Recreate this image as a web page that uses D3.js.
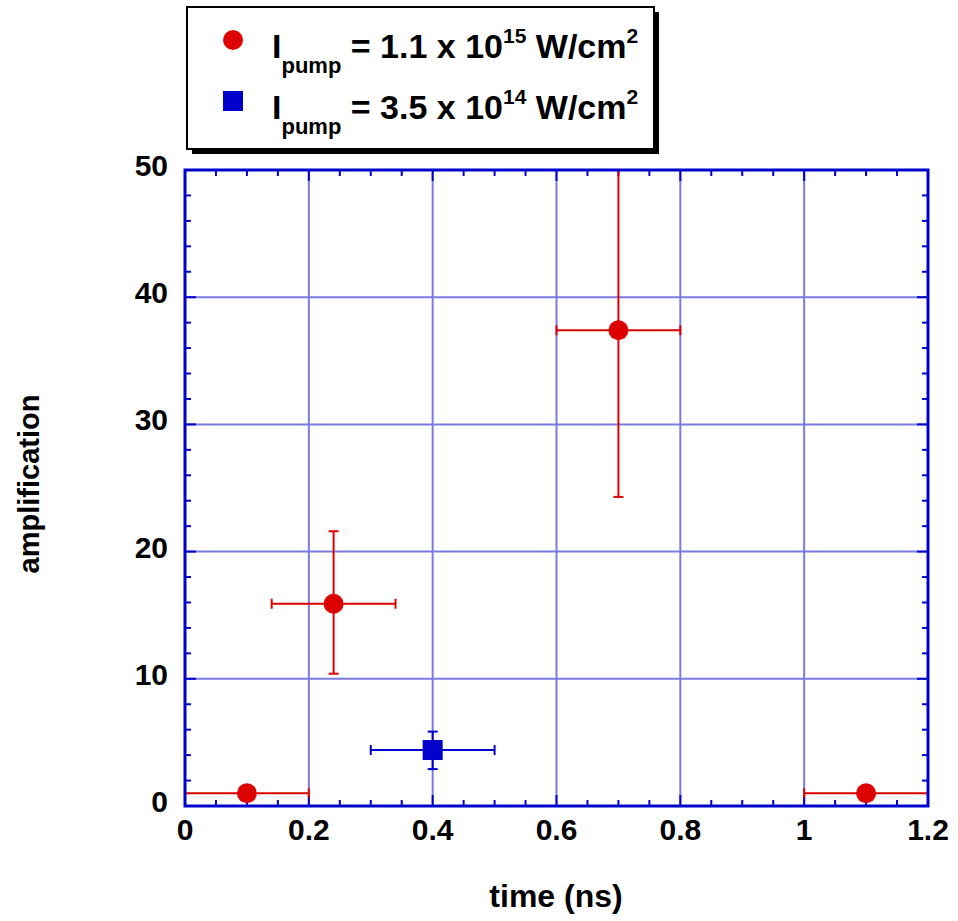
<!DOCTYPE html>
<html>
<head>
<meta charset="utf-8">
<script src="https://cdn.jsdelivr.net/npm/d3@7"></script>
<style>
  body { margin: 0; background: #fff; }
  text { font-family: "Liberation Sans", Arial, sans-serif; font-weight: bold; }
</style>
</head>
<body>
<script>
// high pump intensity series (1.1e15 W/cm2)
var highTime = [0.1, 0.24, 0.7, 1.1];
var highAmp = [1.0, 15.9, 37.4, 1.0];
var highTimeLo = [0.0, 0.14, 0.6, 1.0];
var highTimeHi = [0.2, 0.34, 0.8, 1.2];
var highAmpLo = [1.0, 10.4, 24.3, 1.0];
var highAmpHi = [1.0, 21.6, 50.5, 1.0];

// low pump intensity series (3.5e14 W/cm2)
var lowTime = [0.4];
var lowAmp = [4.4];
var lowTimeLo = [0.3];
var lowTimeHi = [0.5];
var lowAmpLo = [2.9];
var lowAmpHi = [5.85];

var xTicks = [0, 0.2, 0.4, 0.6, 0.8, 1, 1.2];
var yTicks = [0, 10, 20, 30, 40, 50];

function init() {
    var w = 958, h = 921;
    var left = 185, right = 928, top = 170, bottom = 806;

    var x = d3.scaleLinear().domain([0, 1.2]).range([left, right]);
    var y = d3.scaleLinear().domain([0, 50]).range([bottom, top]);

    var svg = d3.select("body").append("svg")
        .attr("width", w).attr("height", h);

    svg.append("defs").append("clipPath").attr("id", "plotclip")
        .append("rect").attr("x", left).attr("y", top)
        .attr("width", right - left).attr("height", bottom - top);

    // grid
    var grid = svg.append("g");
    grid.selectAll(".gx").data(xTicks.slice(1, -1)).enter().append("line")
        .attr("x1", d => x(d)).attr("x2", d => x(d))
        .attr("y1", top).attr("y2", bottom)
        .style("stroke", "#7a7ae0").style("stroke-width", 2);
    grid.selectAll(".gy").data(yTicks.slice(1, -1)).enter().append("line")
        .attr("y1", d => y(d)).attr("y2", d => y(d))
        .attr("x1", left).attr("x2", right)
        .style("stroke", "#7a7ae0").style("stroke-width", 2);

    // inward ticks on all four sides
    var axisColor = "#0000cc";
    var xMinor = d3.range(0, 1.2001, 0.05);
    var yMinor = d3.range(0, 50.001, 2);
    function isMajorX(d) { return Math.abs(d / 0.2 - Math.round(d / 0.2)) < 1e-6; }
    function isMajorY(d) { return Math.abs(d / 10 - Math.round(d / 10)) < 1e-6; }

    var ticks = svg.append("g").style("stroke", axisColor).style("stroke-width", 2);
    xMinor.forEach(function(d) {
        var len = isMajorX(d) ? 11 : 6;
        ticks.append("line").attr("x1", x(d)).attr("x2", x(d)).attr("y1", bottom).attr("y2", bottom - len);
        ticks.append("line").attr("x1", x(d)).attr("x2", x(d)).attr("y1", top).attr("y2", top + len);
    });
    yMinor.forEach(function(d) {
        var len = isMajorY(d) ? 11 : 6;
        ticks.append("line").attr("y1", y(d)).attr("y2", y(d)).attr("x1", left).attr("x2", left + len);
        ticks.append("line").attr("y1", y(d)).attr("y2", y(d)).attr("x1", right).attr("x2", right - len);
    });

    // tick labels
    svg.selectAll(".xl").data(xTicks).enter().append("text")
        .attr("x", d => x(d)).attr("y", bottom + 34)
        .attr("text-anchor", "middle").style("font-size", "30px")
        .text(d => d3.format("~g")(d));
    svg.selectAll(".yl").data(yTicks).enter().append("text")
        .attr("x", left - 17).attr("y", d => y(d) + 6)
        .attr("text-anchor", "end").style("font-size", "30px")
        .text(d => d);

    // axis titles
    svg.append("text").attr("x", 556).attr("y", 907)
        .attr("text-anchor", "middle").style("font-size", "32px")
        .text("time (ns)");
    svg.append("text")
        .attr("transform", "translate(39," + 484 + ") rotate(-90)")
        .attr("text-anchor", "middle").style("font-size", "29px")
        .text("amplification");

    // data
    var plot = svg.append("g").attr("clip-path", "url(#plotclip)");

    function errorBars(g, xs, ys, xlo, xhi, ylo, yhi, color) {
        var cap = 5;
        xs.forEach(function(xv, i) {
            var px = x(xv), py = y(ys[i]);
            var e = g.append("g").style("stroke", color).style("stroke-width", 2);
            if (xlo[i] !== xhi[i]) {
                e.append("line").attr("x1", x(xlo[i])).attr("x2", x(xhi[i])).attr("y1", py).attr("y2", py);
                e.append("line").attr("x1", x(xlo[i])).attr("x2", x(xlo[i])).attr("y1", py - cap).attr("y2", py + cap);
                e.append("line").attr("x1", x(xhi[i])).attr("x2", x(xhi[i])).attr("y1", py - cap).attr("y2", py + cap);
            }
            if (ylo[i] !== yhi[i]) {
                e.append("line").attr("x1", px).attr("x2", px).attr("y1", y(ylo[i])).attr("y2", y(yhi[i]));
                e.append("line").attr("x1", px - cap).attr("x2", px + cap).attr("y1", y(ylo[i])).attr("y2", y(ylo[i]));
                e.append("line").attr("x1", px - cap).attr("x2", px + cap).attr("y1", y(yhi[i])).attr("y2", y(yhi[i]));
            }
        });
    }

    errorBars(plot, highTime, highAmp, highTimeLo, highTimeHi, highAmpLo, highAmpHi, "#dd0000");
    errorBars(plot, lowTime, lowAmp, lowTimeLo, lowTimeHi, lowAmpLo, lowAmpHi, "#0000cc");

    svg.selectAll(".hp").data(highTime).enter().append("circle")
        .attr("cx", d => x(d)).attr("cy", (d, i) => y(highAmp[i]))
        .attr("r", 10).style("fill", "#dd0000");
    svg.selectAll(".lp").data(lowTime).enter().append("rect")
        .attr("x", d => x(d) - 10).attr("y", (d, i) => y(lowAmp[i]) - 10)
        .attr("width", 20).attr("height", 20).style("fill", "#0000cc");

    // frame
    svg.append("rect").attr("x", left).attr("y", top)
        .attr("width", right - left).attr("height", bottom - top)
        .style("fill", "none").style("stroke", axisColor).style("stroke-width", 3);

    // legend
    var lg = svg.append("g");
    lg.append("rect").attr("x", 192).attr("y", 12).attr("width", 467).attr("height", 142).style("fill", "#000");
    lg.append("rect").attr("x", 187).attr("y", 7).attr("width", 467).attr("height", 142)
        .style("fill", "#fff").style("stroke", "#000").style("stroke-width", 2);
    lg.append("circle").attr("cx", 233).attr("cy", 40).attr("r", 10).style("fill", "#dd0000");
    lg.append("rect").attr("x", 223).attr("y", 91).attr("width", 20).attr("height", 20).style("fill", "#0000cc");

    var labels = [["1.1", "15"], ["3.5", "14"]];
    labels.forEach(function(l, i) {
        var t = lg.append("text").attr("x", 272).attr("y", 58 + i * 61).style("font-size", "34px");
        t.append("tspan").text("I");
        t.append("tspan").attr("dy", 15).style("font-size", "22px").text("pump");
        t.append("tspan").attr("dy", -15).text("\u00a0= " + l[0] + " x 10");
        t.append("tspan").attr("dy", -15).style("font-size", "21px").text(l[1]);
        t.append("tspan").attr("dy", 15).text("\u00a0W/cm");
        t.append("tspan").attr("dy", -15).style("font-size", "21px").text("2");
    });
}

window.onload = init;
</script>
</body>
</html>
